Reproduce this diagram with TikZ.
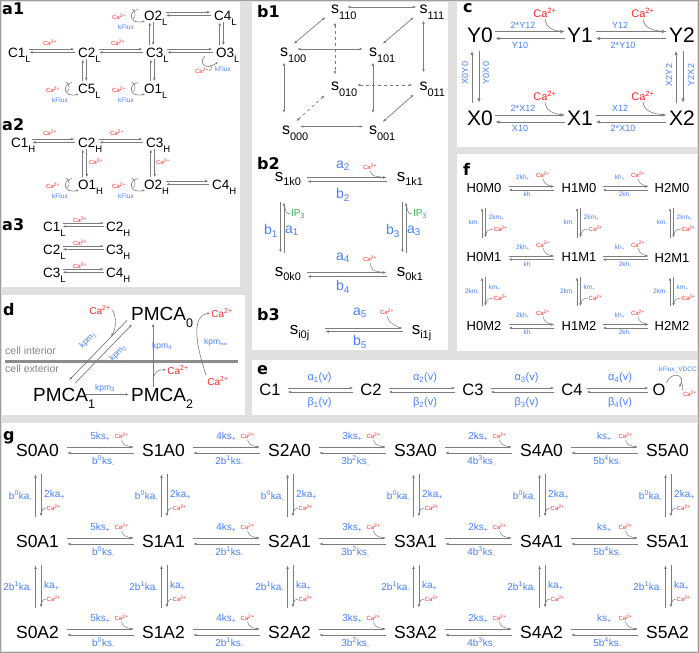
\documentclass[tikz,border=0pt]{standalone}
\usepackage{fontspec}
\setmainfont{Liberation Sans}
\newfontfamily\plfont{DejaVu Sans}
\usetikzlibrary{arrows.meta}
\definecolor{bl}{RGB}{72,128,255}
\definecolor{rd}{RGB}{255,40,40}
\definecolor{gn}{RGB}{50,180,70}
\definecolor{ag}{RGB}{125,125,125}
\definecolor{bgc}{RGB}{224,224,224}
\definecolor{mem}{RGB}{140,140,140}
\definecolor{txg}{RGB}{135,135,135}
\newcommand\fsz[1]{\fontsize{#1}{#1}\selectfont}
\newcommand\zsub[3]{\rlap{\raisebox{#1}[0pt][0pt]{\fsz{#2}#3}}}
\newcommand\Ca{Ca\textsuperscript{2+}}
\newcommand\hpair[5]{%
 \draw[ar,shorten <=#5,shorten >=#5] ([yshift=#3]#1.east) -- ([yshift=#3]#1.east -| #2.west);
 \draw[ar,shorten <=#5,shorten >=#5] ([yshift=#4]#1.east -| #2.west) -- ([yshift=#4]#1.east);}
\newcommand\vpair[5]{%
 \draw[ar,shorten <=#5,shorten >=#5] ([xshift=#3]#1.south |- #2.north) -- ([xshift=#3]#1.south);
 \draw[ar,shorten <=#5,shorten >=#5] ([xshift=#4]#1.south) -- ([xshift=#4]#1.south |- #2.north);}
\newcommand\kloop[1]{%
 \begin{scope}[shift={(#1.base west)}]
 \draw[car] (-5,-10.5) .. controls (-15,-9) and (-14,5) .. (2,1);
 \draw[cur] (-11,-11) .. controls (-7,-8) and (-7,-4) .. (-10,-1);
 \node[cas] (#1ca) at (-24,-3) {\Ca};
 \node[kfl] (#1kf) at (-17,7) {kFlux};
 \end{scope}}
\begin{document}
\begin{tikzpicture}[x=1pt,y=-1pt,
 every node/.style={inner sep=1pt},
 lab/.style={font={\plfont\bfseries\fsz{16}}, anchor=north west, inner sep=0pt},
 ar/.style={draw=ag, line width=0.7pt, -{Latex[length=3.4pt,width=2.7pt]}},
 bar/.style={draw=ag, line width=0.7pt, {Latex[length=3.2pt,width=2.6pt]}-{Latex[length=3.2pt,width=2.6pt]}},
 cur/.style={draw=ag, line width=0.5pt},
 car/.style={draw=ag, line width=0.6pt, -{Latex[length=2.6pt,width=2.2pt]}},
 cas/.style={text=rd, font=\fsz{6}, inner sep=0.5pt},
 kfl/.style={text=bl, font=\fsz{6.5}, inner sep=0.5pt},
 sa/.style={font=\fsz{13.5}, anchor=base west},
 bs/.style={font=\fsz{16}},
 bs2/.style={font=\fsz{17}},
 bt/.style={text=bl, font=\fsz{14}},
 ipt/.style={text=gn, font=\fsz{10}},
 cs/.style={font=\fsz{21}},
 cl/.style={text=bl, font=\fsz{9}},
 cab/.style={text=rd, font=\fsz{11}},
 fs/.style={font=\fsz{13}},
 fl/.style={text=bl, font=\fsz{6.5}, inner sep=0.5pt},
 pm/.style={font=\fsz{19}, anchor=base west},
 dl/.style={text=bl, font=\fsz{8.5}, inner sep=0pt},
 dca/.style={text=rd, font=\fsz{10}},
 dtx/.style={text=txg, font=\fsz{10.5}, anchor=west},
 es/.style={font=\fsz{16.5}},
 el/.style={text=bl, font=\fsz{11}},
 gs/.style={font=\fsz{17.5}},
 gl/.style={text=bl, font=\fsz{10}}
]
\useasboundingbox (0,0) rectangle (699,653);
% ---------- background and panels
\fill[bgc] (0,0) rectangle (699,653);
\fill[white] (2,2) rectangle (240,287);
\fill[white] (252,2) rectangle (448,350);
\fill[white] (457,2) rectangle (697,147);
\fill[white] (457,154) rectangle (697,351);
\fill[white] (2,295) rectangle (245,415);
\fill[white] (252,360) rectangle (697,415);
\fill[white] (2,423) rectangle (697,651);
\draw[gray!75, line width=1pt] (0.5,0.5) rectangle (698.5,652.5);

% ---------- a1
\node[lab] (la1) at (2,3) {a1};
\node[sa] (C1L) at (7,57) {C1\zsub{-5pt}{9.5}{L}};
\node[sa] (C2L) at (77,57) {C2\zsub{-5pt}{9.5}{L}};
\node[sa] (C3L) at (145,57) {C3\zsub{-5pt}{9.5}{L}};
\node[sa] (O3L) at (215,57) {O3\zsub{-5pt}{9.5}{L}};
\node[sa] (O2L) at (143,20) {O2\zsub{-5pt}{9.5}{L}};
\node[sa] (C4L) at (213,20) {C4\zsub{-5pt}{9.5}{L}};
\node[sa] (C5L) at (77,93) {C5\zsub{-5pt}{9.5}{L}};
\node[sa] (O1L) at (143,93) {O1\zsub{-5pt}{9.5}{L}};
\hpair{C1L}{C2L}{3.2pt}{0pt}{2.5pt}
\hpair{C2L}{C3L}{3.2pt}{0pt}{2.5pt}
\hpair{C3L}{O3L}{3.2pt}{0pt}{2.5pt}
\hpair{O2L}{C4L}{3.2pt}{0pt}{2.5pt}
\vpair{O2L}{C3L}{-3.5pt}{0pt}{1pt}
\vpair{C2L}{C5L}{-4pt}{-0.5pt}{1pt}
\vpair{C3L}{O1L}{-4pt}{-0.5pt}{1pt}
\vpair{C4L}{O3L}{-3pt}{0.5pt}{1pt}
\node[cas] (caa1) at (50,43) {\Ca};
\node[cas] (caa2) at (118,43) {\Ca};
\kloop{O2L}\kloop{C5L}\kloop{O1L}
\begin{scope}[shift={(O3L.base west)}]
 \draw[car] (-10,-1) .. controls (-17,6) and (-9,14) .. (3,5);
 \draw[cur] (-5,8) .. controls (-3,11) .. (-6,14);
 \node[cas] (O3Lca) at (-13,14) {\Ca};
 \node[kfl] (O3Lkf) at (8,12) {kFlux};
\end{scope}

% ---------- a2
\node[lab] (la2) at (2,118) {a2};
\node[sa] (C1H) at (10,147) {C1\zsub{-5pt}{9.5}{H}};
\node[sa] (C2H) at (77,147) {C2\zsub{-5pt}{9.5}{H}};
\node[sa] (C3H) at (145,147) {C3\zsub{-5pt}{9.5}{H}};
\node[sa] (O1H) at (77,189) {O1\zsub{-5pt}{9.5}{H}};
\node[sa] (O2H) at (143,189) {O2\zsub{-5pt}{9.5}{H}};
\node[sa] (C4H) at (211,189) {C4\zsub{-5pt}{9.5}{H}};
\hpair{C1H}{C2H}{3.2pt}{0pt}{2.5pt}
\hpair{C2H}{C3H}{3.2pt}{0pt}{2.5pt}
\hpair{O2H}{C4H}{3.2pt}{0pt}{2.5pt}
\vpair{C2H}{O1H}{-4pt}{0pt}{1pt}
\vpair{C3H}{O2H}{-4pt}{0pt}{1pt}
\node[cas] (cab1) at (50,133) {\Ca};
\node[cas] (cab2x) at (117,133) {\Ca};
\node[cas] (cab3) at (96,162) {\Ca};
\node[cas] (cab4x) at (163,162) {\Ca};
\kloop{O1H}\kloop{O2H}

% ---------- a3
\node[lab] (la3) at (2,218) {a3};
\node[sa] (C1L3) at (42,231) {C1\zsub{-5pt}{9.5}{L}};
\node[sa] (C2H3) at (105,231) {C2\zsub{-5pt}{9.5}{H}};
\node[sa] (C2L3) at (42,254) {C2\zsub{-5pt}{9.5}{L}};
\node[sa] (C3H3) at (105,254) {C3\zsub{-5pt}{9.5}{H}};
\node[sa] (C3L3) at (42,277) {C3\zsub{-5pt}{9.5}{L}};
\node[sa] (C4H3) at (105,277) {C4\zsub{-5pt}{9.5}{H}};
\hpair{C1L3}{C2H3}{3.2pt}{0pt}{1pt}
\hpair{C2L3}{C3H3}{3.2pt}{0pt}{1pt}
\hpair{C3L3}{C4H3}{3.2pt}{0pt}{1pt}
\node[cas] (cac1) at (80,220) {\Ca};
\node[cas] (cac2) at (80,243) {\Ca};
\node[cas] (cac3) at (80,266) {\Ca};

% ---------- b1
\node[lab] (lb1) at (257,5) {b1};
\node[bs] (s110) at (335,9) {s\zsub{-6pt}{11}{110}};
\node[bs] (s111) at (423.5,9) {s\zsub{-6pt}{11}{111}};
\node[bs] (s100) at (284,52) {s\zsub{-6pt}{11}{100}};
\node[bs] (s101) at (373,52) {s\zsub{-6pt}{11}{101}};
\node[bs] (s010) at (335,86) {s\zsub{-6pt}{11}{010}};
\node[bs] (s011) at (423.5,86) {s\zsub{-6pt}{11}{011}};
\node[bs] (s000) at (286,130.5) {s\zsub{-6pt}{11}{000}};
\node[bs] (s001) at (373,130.5) {s\zsub{-6pt}{11}{001}};
\draw[bar, shorten <=7pt, shorten >=2pt] ([yshift=2pt]s110.east) -- ([yshift=2pt]s110.east -| s111.west);
\draw[bar, shorten <=8pt, shorten >=5pt] ([yshift=3pt]s100.east) -- ([yshift=3pt]s100.east -| s101.west);
\draw[bar, shorten <=9pt, shorten >=5pt] ([yshift=4pt]s000.east) -- ([yshift=4pt]s000.east -| s001.west);
\draw[bar, shorten <=5pt, shorten >=12pt] (s100.south) -- (s100.south |- s000.north);
\draw[bar, shorten <=5pt, shorten >=12pt] (s101.south) -- (s101.south |- s001.north);
\draw[bar, shorten <=6pt, shorten >=8pt] (s111.south) -- (s111.south |- s011.north);
\draw[bar, dashed, shorten <=8pt, shorten >=6pt] (s110.south) -- (s110.south |- s010.north);
\draw[bar, dashed, shorten <=17pt, shorten >=6pt] ([yshift=1pt]s010.east) -- ([yshift=1pt]s010.east -| s011.west);
\draw[bar, shorten <=6pt, shorten >=6pt] (s110) -- (s100);
\draw[bar, shorten <=6pt, shorten >=6pt] (s111) -- (s101);
\draw[bar, shorten <=6pt, shorten >=6pt] (s011) -- (s001);
\draw[bar, dashed, shorten <=7pt, shorten >=7pt] (s000) -- (s010);

% ---------- b2
\node[lab] (lb2) at (257,157) {b2};
\node[bs2] (s1k0) at (279,177.5) {s\zsub{-4pt}{11}{1k0}};
\node[bs2] (s1k1) at (401,177.5) {s\zsub{-4pt}{11}{1k1}};
\node[bs2] (s0k0) at (279,272.5) {s\zsub{-4pt}{11}{0k0}};
\node[bs2] (s0k1) at (401,272.5) {s\zsub{-4pt}{11}{0k1}};
\draw[ar, shorten <=23pt, shorten >=9pt] (s1k0.east) -- (s1k0.east -| s1k1.west);
\draw[ar, shorten <=9pt, shorten >=23pt] ([yshift=-4pt]s1k0.east -| s1k1.west) -- ([yshift=-4pt]s1k0.east);
\draw[ar, shorten <=23pt, shorten >=9pt] (s0k0.east) -- (s0k0.east -| s0k1.west);
\draw[ar, shorten <=9pt, shorten >=23pt] ([yshift=-4pt]s0k0.east -| s0k1.west) -- ([yshift=-4pt]s0k0.east);
\draw[ar, shorten <=19pt, shorten >=14pt] ([xshift=1.5pt]s1k0.south) -- ([xshift=1.5pt]s1k0.south |- s0k0.north);
\draw[ar, shorten <=14pt, shorten >=19pt] ([xshift=5pt]s1k0.south |- s0k0.north) -- ([xshift=5pt]s1k0.south);
\draw[ar, shorten <=19pt, shorten >=14pt] ([xshift=1.5pt]s1k1.south) -- ([xshift=1.5pt]s1k1.south |- s0k1.north);
\draw[ar, shorten <=14pt, shorten >=19pt] ([xshift=5pt]s1k1.south |- s0k1.north) -- ([xshift=5pt]s1k1.south);
\node[bt] (lba2) at (343,166) {a\textsubscript{2}};
\node[bt] (lbb2) at (343,195) {b\textsubscript{2}};
\node[bt] (lba4) at (343,258) {a\textsubscript{4}};
\node[bt] (lbb4) at (343,287) {b\textsubscript{4}};
\node[bt] (lbb1) at (271,231) {b\textsubscript{1}};
\node[bt] (lba1) at (292,231) {a\textsubscript{1}};
\node[bt] (lbb3) at (393,231) {b\textsubscript{3}};
\node[bt] (lba3) at (414,231) {a\textsubscript{3}};
\node[ipt] (ip1) at (298,214) {IP\textsubscript{3}};
\draw[cur] (ip1.west) .. controls (286,213) .. (284.5,205);
\node[ipt] (ip2) at (420,214) {IP\textsubscript{3}};
\draw[cur] (ip2.west) .. controls (408,213) .. (406.5,205);
\node[cas] (cbb2) at (370,167) {\Ca};
\draw[cur] (cbb2.south) .. controls (372,176) .. (385,177.5);
\node[cas] (cbb4) at (370,259) {\Ca};
\draw[cur] (cbb4.south) .. controls (372,271) .. (385,272.5);

% ---------- b3
\node[lab] (lb3) at (257,308) {b3};
\node[bs2] (si0j) at (294,330) {s\zsub{-4pt}{11}{i0j}};
\node[bs2] (si1j) at (416,330) {s\zsub{-4pt}{11}{i1j}};
\draw[ar, shorten <=26pt, shorten >=8pt] ([yshift=2pt]si0j.east) -- ([yshift=2pt]si0j.east -| si1j.west);
\draw[ar, shorten <=8pt, shorten >=26pt] ([yshift=-1.5pt]si0j.east -| si1j.west) -- ([yshift=-1.5pt]si0j.east);
\node[bt] (lba5) at (360,313) {a\textsubscript{5}};
\node[bt] (lbb5) at (360,342) {b\textsubscript{5}};
\node[cas] (cbb5) at (387,312) {\Ca};
\draw[cur] (cbb5.south) .. controls (389,322) .. (400,328);

% ---------- c
\begin{scope}[ar/.style={draw=ag, line width=0.9pt, -{Latex[length=4.5pt,width=3.4pt]}}]
\node[lab] (lc) at (463,3) {c};
\node[cs] (Y0) at (480,35) {Y0};
\node[cs] (Y1) at (580,35) {Y1};
\node[cs] (Y2) at (682,35) {Y2};
\node[cs] (X0) at (480,118.5) {X0};
\node[cs] (X1) at (580,118.5) {X1};
\node[cs] (X2) at (682,118.5) {X2};
\hpair{Y0}{Y1}{3.5pt}{-3.5pt}{1pt}
\hpair{Y1}{Y2}{3.5pt}{-3.5pt}{1.5pt}
\hpair{X0}{X1}{3.5pt}{-3.5pt}{1pt}
\hpair{X1}{X2}{3.5pt}{-3.5pt}{1.5pt}
\vpair{Y0}{X0}{-8pt}{-1pt}{7pt}
\vpair{Y2}{X2}{-6pt}{1pt}{7pt}
\node[cl] (cu1) at (523,25) {2*Y12};
\node[cl] (cd1) at (520,45) {Y10};
\node[cl] (cu2) at (620,25) {Y12};
\node[cl] (cd2) at (623,45) {2*Y10};
\node[cl] (cu3) at (523,108) {2*X12};
\node[cl] (cd3) at (520,128) {X10};
\node[cl] (cu4) at (620,108) {X12};
\node[cl] (cd4) at (623,128) {2*X10};
\node[cl,rotate=90] (cv1) at (465,73) {X0Y0};
\node[cl,rotate=90] (cv2) at (486,73) {Y0X0};
\node[cl,rotate=90] (cv3) at (669,75) {X2Y2};
\node[cl,rotate=90] (cv4) at (691,75) {Y2X2};
\node[cab] (cc1) at (545,13) {\Ca};
\draw[cur, line width=0.6pt] (cc1.south) .. controls (546,28) and (553,31) .. (564,31.5);
\node[cab] (cc2) at (643,13) {\Ca};
\draw[cur, line width=0.6pt] (cc2.south) .. controls (644,28) and (652,31) .. (666,31.5);
\node[cab] (cc3) at (545,96) {\Ca};
\draw[cur, line width=0.6pt] (cc3.south) .. controls (546,111) and (553,114) .. (564,115);
\node[cab] (cc4) at (643,96) {\Ca};
\draw[cur, line width=0.6pt] (cc4.south) .. controls (644,111) and (652,114) .. (666,115);
\end{scope}

% ---------- f
\node[lab] (lf) at (463,163) {f};
\foreach \i/\x in {0/484,1/579,2/672}{
 \foreach \j/\y in {0/188,1/257.5,2/326}{
  \node[fs] (f\i\j) at (\x,\y) {H\i M\j};
 }}
\foreach \j/\y in {0/188,1/257.5,2/326}{
 \hpair{f0\j}{f1\j}{1.5pt}{-2pt}{6pt}
 \hpair{f1\j}{f2\j}{1.5pt}{-2pt}{5pt}
 \node[fl] (fu0\j) at (523,\y-10) {2kh\textsubscript{+}};
 \node[fl] (fd0\j) at (528,\y+7) {kh\textsubscript{-}};
 \node[cas] (fc0\j) at (543,\y-13) {\Ca};
 \draw[cur] (fc0\j.south) .. controls (545,\y-4) .. (552,\y-1.5);
 \node[fl] (fu1\j) at (620,\y-10) {kh\textsubscript{+}};
 \node[fl] (fd1\j) at (625,\y+7) {2kh\textsubscript{-}};
 \node[cas] (fc1\j) at (638,\y-13) {\Ca};
 \draw[cur] (fc1\j.south) .. controls (640,\y-4) .. (648,\y-1.5);
}
\foreach \i/\x in {0/484,1/579,2/672}{
 \vpair{f\i0}{f\i1}{-2pt}{1.5pt}{14pt}
 \vpair{f\i1}{f\i2}{-2pt}{1.5pt}{14pt}
 \node[fl,anchor=east] (fvl\i0) at (\x-4,223) {km\textsubscript{-}};
 \node[fl,anchor=west] (fvr\i0) at (\x+4,218) {2km\textsubscript{+}};
 \node[cas,anchor=west] (fvc\i0) at (\x+9,229) {\Ca};
 \draw[cur] (fvc\i0.west) .. controls (\x+3,230) .. (\x+1.5,236);
 \node[fl,anchor=east] (fvl\i1) at (\x-4,292) {2km\textsubscript{-}};
 \node[fl,anchor=west] (fvr\i1) at (\x+4,288) {km\textsubscript{+}};
 \node[cas,anchor=west] (fvc\i1) at (\x+9,298) {\Ca};
 \draw[cur] (fvc\i1.west) .. controls (\x+3,299) .. (\x+1.5,305);
}

% ---------- d
\node[lab] (ld) at (3,303) {d};
\coordinate (memL) at (5,361);
\coordinate (memR) at (238,361);
\draw[mem, line width=3pt] (memL) -- (memR);
\node[dtx] (cin) at (4,351) {cell interior};
\node[dtx] (cex) at (4,369) {cell exterior};
\node[pm] (P0) at (130,320) {PMCA\zsub{-7pt}{12.5}{0}};
\node[pm] (P1) at (32,401) {PMCA\zsub{-7pt}{12.5}{1}};
\node[pm] (P2) at (130,401) {PMCA\zsub{-7pt}{12.5}{2}};
\draw[ar] ([shift={(-3,-1)}]P0.south west) -- ([shift={(8.5,-6.4)}]P1.north);
\draw[ar] ([shift={(14.5,-3.4)}]P1.north) -- ([shift={(2,3)}]P0.south west);
\draw[ar, shorten <=-4pt, shorten >=1pt] (P1.east) -- (P1.east -| P2.west);
\draw[ar, shorten >=2pt] ([xshift=-5.5pt]P2.north) -- ([xshift=-5.5pt]P2.north |- P0.south);
\node[dl, rotate=46] (k1) at (88,340) {kpm\textsubscript{1}};
\node[dl, rotate=46] (k2) at (118,353) {kpm\textsubscript{2}};
\node[dl] (k3) at (105,388) {kpm\textsubscript{3}};
\node[dl] (k4) at (162,346) {kpm\textsubscript{4}};
\node[dl] (kl) at (216,342) {kpm\textsubscript{\fsz{4}leak}};
\node[dca] (dc1) at (100,310) {\Ca};
\draw[car] (dc1.east) .. controls (116,313) and (117,328) .. (111,336);
\node[dca] (dc2) at (178,370) {\Ca};
\draw[car] ([shift={(-5.5,-5)}]P2.north) .. controls (153,373) and (158,369) .. (dc2.west);
\node[dca] (dc3) at (218,381) {\Ca};
\node[dca] (dc4) at (222,313) {\Ca};
\draw[car] (dc3.north west) .. controls (197,348) and (190,316) .. (dc4.west);

% ---------- e
\node[lab] (le) at (257,365) {e};
\node[es] (C1e) at (270,390) {C1};
\node[es] (C2e) at (371,390) {C2};
\node[es] (C3e) at (473,390) {C3};
\node[es] (C4e) at (572,390) {C4};
\node[es] (Oe) at (659,390) {O};
\hpair{C1e}{C2e}{2pt}{-2pt}{6pt}
\hpair{C2e}{C3e}{2pt}{-2pt}{6pt}
\hpair{C3e}{C4e}{2pt}{-2pt}{6pt}
\hpair{C4e}{Oe}{2pt}{-2pt}{3pt}
\node[el] (ea1) at (319.5,378) {α\textsubscript{1}(v)};
\node[el] (eb1) at (319.5,403) {β\textsubscript{1}(v)};
\node[el] (ea2) at (425,378) {α\textsubscript{2}(v)};
\node[el] (eb2) at (425,403) {β\textsubscript{2}(v)};
\node[el] (ea3) at (526.5,378) {α\textsubscript{3}(v)};
\node[el] (eb3) at (526.5,403) {β\textsubscript{3}(v)};
\node[el] (ea4) at (620,378) {α\textsubscript{4}(v)};
\node[el] (eb4) at (620,403) {β\textsubscript{4}(v)};
\node[kfl] (ekf) at (678,370) {kFlux\_VDCC};
\node[cas] (eca) at (690,394) {\Ca};
\draw[car] (Oe.north east) .. controls (670,371) and (687,374) .. (679,387);
\draw[cur] (681,382) .. controls (683,386) .. (eca.north west);

% ---------- g
\node[lab] (lg) at (3,431) {g};
\foreach \j/\y in {0/450,1/541,2/632}{
 \foreach \i in {0,...,5}{
  \node[gs] (g\i\j) at ({37.5+126*\i},\y) {S\i A\j};
 }}
\foreach \i/\lu/\ld in {0/{5ks\textsubscript{+}}/{b\textsuperscript{0}ks\textsubscript{-}},
  1/{4ks\textsubscript{+}}/{2b\textsuperscript{1}ks\textsubscript{-}},
  2/{3ks\textsubscript{+}}/{3b\textsuperscript{2}ks\textsubscript{-}},
  3/{2ks\textsubscript{+}}/{4b\textsuperscript{3}ks\textsubscript{-}},
  4/{ks\textsubscript{+}}/{5b\textsuperscript{4}ks\textsubscript{-}}}{
 \pgfmathtruncatemacro\nx{\i+1}
 \pgfmathsetmacro\mx{100.5+126*\i}
 \foreach \j/\y in {0/450,1/541,2/632}{
  \hpair{g\i\j}{g\nx\j}{3pt}{-3pt}{7pt}
  \node[gl] (gu\i\j) at (\mx,\y-13) {\lu};
  \node[gl] (gd\i\j) at (\mx+3,\y+11) {\ld};
  \node[cas] (gc\i\j) at (\mx+21,\y-14) {\Ca};
  \draw[cur] (gc\i\j.south) .. controls (\mx+23,\y-5) .. (\mx+32,\y-3);
 }}
\foreach \i in {0,...,5}{
 \pgfmathsetmacro\cx{37.5+126*\i}
 \vpair{g\i0}{g\i1}{-2pt}{3.5pt}{17pt}
 \vpair{g\i1}{g\i2}{-2pt}{3.5pt}{17pt}
 \node[gl,anchor=east] (gvl\i0) at (\cx-4,496) {b\textsuperscript{0}ka\textsubscript{-}};
 \node[gl,anchor=west] (gvr\i0) at (\cx+5.5,495) {2ka\textsubscript{+}};
 \node[cas,anchor=west] (gvc\i0) at (\cx+8.5,508) {\Ca};
 \draw[cur] (gvc\i0.west) .. controls (\cx+5,509) .. (\cx+3.5,514);
 \node[gl,anchor=east] (gvl\i1) at (\cx-4,587) {2b\textsuperscript{1}ka\textsubscript{-}};
 \node[gl,anchor=west] (gvr\i1) at (\cx+5.5,586) {ka\textsubscript{+}};
 \node[cas,anchor=west] (gvc\i1) at (\cx+8.5,599) {\Ca};
 \draw[cur] (gvc\i1.west) .. controls (\cx+5,600) .. (\cx+3.5,605);
}
\end{tikzpicture}
\end{document}
